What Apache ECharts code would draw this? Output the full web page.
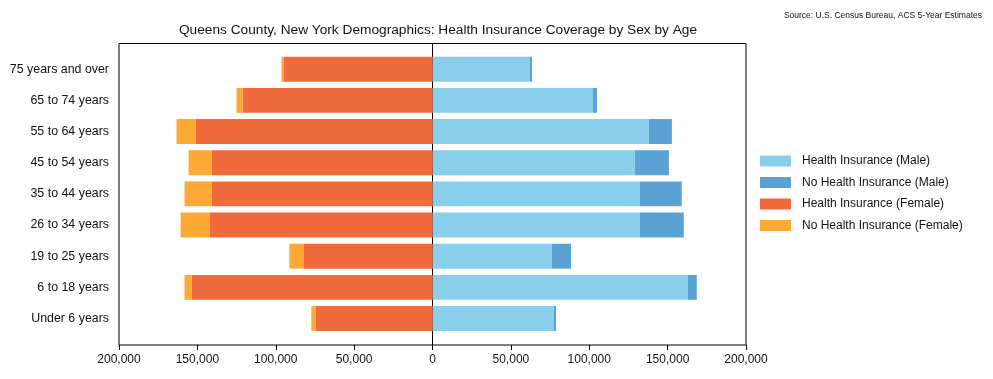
<!DOCTYPE html>
<html>
<head>
<meta charset="utf-8">
<script src="https://cdn.jsdelivr.net/npm/echarts@6/dist/echarts.min.js"></script>
<style>
html,body{margin:0;padding:0;background:#fff;}
#chart{width:993px;height:379px;}
</style>
</head>
<body>
<div id="chart"></div>
<script>
const categories = ['Under 6 years', '6 to 18 years', '19 to 25 years', '26 to 34 years', '35 to 44 years', '45 to 54 years', '55 to 64 years', '65 to 74 years', '75 years and over'];
const maleInsured = [77500, 162900, 76200, 132300, 132300, 129100, 138000, 102400, 62200];
const maleUninsured = [1300, 5700, 12200, 28000, 26700, 21700, 14700, 2500, 1300];
const femaleInsured = [74700, 153700, 82400, 142300, 141000, 141000, 151200, 121200, 95100];
const femaleUninsured = [2600, 4500, 8900, 18400, 17200, 14600, 12100, 3800, 1300];
const xTicks = { min: -200000, max: 200000, interval: 50000 };

const FONT = 'Liberation Sans, Arial, sans-serif';
const chart = echarts.init(document.getElementById('chart'), null, { renderer: 'canvas' });
const fmt = v => Math.abs(v).toLocaleString('en-US');

const option = {
  animation: false,
  textStyle: { fontFamily: FONT },
  title: [
    { text: 'Queens County, New York Demographics: Health Insurance Coverage by Sex by Age',
      left: 433, textAlign: 'center', top: 18,
      textStyle: { fontFamily: FONT, fontSize: 13.7, fontWeight: 'normal', color: '#111' } },
    { text: 'Source: U.S. Census Bureau, ACS 5-Year Estimates',
      right: 6, top: 6,
      textStyle: { fontFamily: FONT, fontSize: 8.5, fontWeight: 'normal', color: '#111' } }
  ],
  legend: {
    orient: 'vertical', left: 760, top: 155, padding: 0,
    itemWidth: 31, itemHeight: 11, itemGap: 9.5,
    icon: 'rect',
    textStyle: { fontFamily: FONT, fontSize: 12, color: '#111', padding: [0, 0, 0, 6] },
    data: ['Health Insurance (Male)', 'No Health Insurance (Male)', 'Health Insurance (Female)', 'No Health Insurance (Female)']
  },
  grid: [
    { left: 119, right: 247, top: 53.6, bottom: 44.9, containLabel: false },
    { left: 119, right: 247, top: 43.5, bottom: 34, show: true, borderColor: '#000', borderWidth: 1, backgroundColor: 'transparent', z: 0 }
  ],
  xAxis: [
    { gridIndex: 0, type: 'value', min: xTicks.min, max: xTicks.max, interval: xTicks.interval, show: false },
    { gridIndex: 1, type: 'value', min: xTicks.min, max: xTicks.max, interval: xTicks.interval,
      axisLine: { show: false },
      axisTick: { show: true, length: 5, lineStyle: { color: '#000' } },
      axisLabel: { formatter: fmt, fontFamily: FONT, fontSize: 12, color: '#111', margin: 9 },
      splitLine: { show: false } }
  ],
  yAxis: [
    { gridIndex: 0, type: 'category', data: categories,
      axisLine: { show: false },
      axisTick: { show: true, length: 6, alignWithLabel: true, lineStyle: { color: '#000' } },
      axisLabel: { fontFamily: FONT, fontSize: 12.4, color: '#111', margin: 10 } },
    { gridIndex: 1, type: 'value', min: 0, max: 1,
      axisLine: { show: true, onZero: true, lineStyle: { color: '#000', width: 1 } },
      axisTick: { show: false }, axisLabel: { show: false }, splitLine: { show: false } }
  ],
  series: [
    { name: 'Health Insurance (Male)', type: 'bar', stack: 'male', xAxisIndex: 0, yAxisIndex: 0,
      barWidth: '80%', itemStyle: { color: '#89CEEB' }, data: maleInsured },
    { name: 'No Health Insurance (Male)', type: 'bar', stack: 'male', xAxisIndex: 0, yAxisIndex: 0,
      barWidth: '80%', itemStyle: { color: '#5BA2D4' }, data: maleUninsured },
    { name: 'Health Insurance (Female)', type: 'bar', stack: 'female', xAxisIndex: 0, yAxisIndex: 0,
      barWidth: '80%', barGap: '-100%', itemStyle: { color: '#EF6A3C' }, data: femaleInsured.map(v => -v) },
    { name: 'No Health Insurance (Female)', type: 'bar', stack: 'female', xAxisIndex: 0, yAxisIndex: 0,
      barWidth: '80%', barGap: '-100%', itemStyle: { color: '#FDA935' }, data: femaleUninsured.map(v => -v) }
  ]
};
chart.setOption(option);
</script>
</body>
</html>
